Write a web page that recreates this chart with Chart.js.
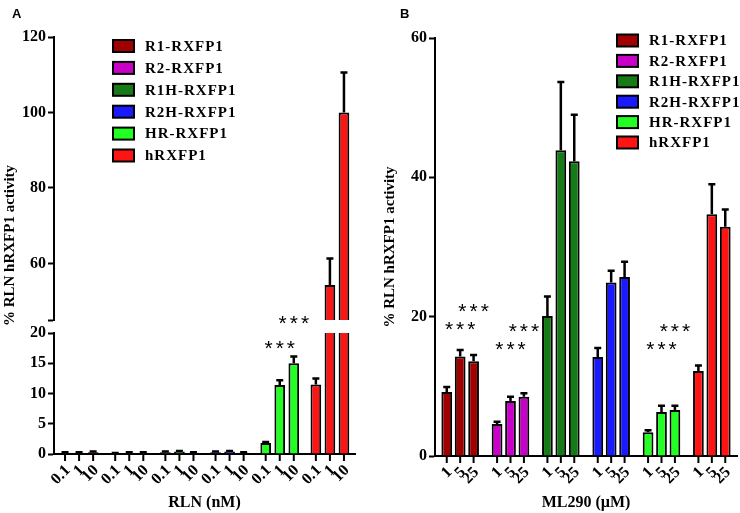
<!DOCTYPE html>
<html>
<head>
<meta charset="utf-8">
<script src="https://cdn.jsdelivr.net/npm/chart.js@4.4.1/dist/chart.umd.min.js"></script>
<style>
  body { margin: 0; background: #fff; }
  #wrap { position: relative; width: 740px; height: 513px; }
  canvas { position: absolute; top: 0; }
</style>
</head>
<body>
<div id="wrap">
  <canvas id="chartA" width="370" height="513" style="left:0"></canvas>
  <canvas id="chartB" width="370" height="513" style="left:370px"></canvas>
</div>
<script>
const receptors = ["R1-RXFP1", "R2-RXFP1", "R1H-RXFP1", "R2H-RXFP1", "HR-RXFP1", "hRXFP1"];
const receptorColours = ["#a00000", "#c800c8", "#167a16", "#1a1aff", "#22ff22", "#ff1414"];

// panel A - relaxin, % of hRXFP1 response
const rlnDoses = ["0.1", "1", "10"];
const rln01 = [0.2, 0.1, 0.3, 0.3, 1.8, 11.5];
const rln1 = [0.2, 0.2, 0.4, 0.4, 11.4, 54.3];
const rln10 = [0.3, 0.2, 0.2, 0.2, 15.0, 100.0];
const rln01Err = [0.1, 0.05, 0.1, 0.1, 0.2, 1.0];
const rln1Err = [0.1, 0.1, 0.1, 0.1, 0.8, 7.0];
const rln10Err = [0.1, 0.1, 0.1, 0.1, 1.1, 10.6];
// [receptor, dose, level] for the *** marks
const rlnSig = [[4, 1, 18.3], [4, 2, 22.5]];

// panel B - ML290
const mlDoses = ["1", "5", "25"];
const ml1 = [9.2, 4.6, 20.1, 14.2, 3.4, 12.2];
const ml5 = [14.3, 7.9, 43.9, 24.9, 6.3, 34.7];
const ml25 = [13.6, 8.5, 42.3, 25.7, 6.6, 32.9];
const ml1Err = [0.7, 0.3, 2.8, 1.3, 0.3, 0.8];
const ml5Err = [0.9, 0.6, 9.8, 1.7, 0.9, 4.3];
const ml25Err = [0.9, 0.5, 6.7, 2.2, 0.6, 2.5];
const mlSig = [[0, 1, 18.9], [0, 2, 21.5], [1, 1, 16.1], [1, 2, 18.7], [4, 1, 16.1], [4, 2, 18.7]];

const yTitle = "% RLN hRXFP1 activity";
const serif = "'Liberation Serif', 'Times New Roman', serif";

function barSet(label, values, errors, axis) {
  return { label: label, data: values, errors: errors, yAxisID: axis, stack: label,
           backgroundColor: receptorColours, borderColor: "#000", borderWidth: 2 };
}

function yAxis(min, max, step, w, extra) {
  return Object.assign({
    type: "linear", position: "left", min: min, max: max, stacked: false,
    ticks: { stepSize: step, autoSkip: false, color: "#000", padding: 2,
             font: { family: serif, size: 16, weight: "bold" },
             callback: v => (v % step === 0 ? v : "") },
    grid: { drawOnChartArea: false, tickLength: 6, tickWidth: 2, tickColor: "#000" },
    border: { color: "#000", width: 2 },
    afterFit: s => { s.width = w; }
  }, extra || {});
}

function xAxis(title, h) {
  return {
    type: "category", offset: true,
    ticks: { display: false }, grid: { display: false },
    border: { color: "#000", width: 2 },
    title: { display: true, text: title, color: "#000", padding: { top: 0, bottom: 1 },
             font: { family: serif, size: 16, weight: "bold" } },
    afterFit: s => { s.height = h; }
  };
}

// clipping per y axis (broken axis), error bars, dose ticks, stars, legend, titles
const panelExtras = {
  id: "panelExtras",
  beforeDatasetDraw(chart, args) {
    const area = chart.chartArea, s = chart.scales[args.meta.yAxisID];
    chart.ctx.save();
    chart.ctx.beginPath();
    chart.ctx.rect(area.left - 5, s.top, area.width + 10, s.bottom - s.top);
    chart.ctx.clip();
  },
  afterDatasetDraw(chart) { chart.ctx.restore(); },
  afterDraw(chart, args, o) {
    const ctx = chart.ctx, area = chart.chartArea;

    chart.data.datasets.forEach((ds, di) => {
      const s = chart.scales[ds.yAxisID];
      ctx.save();
      ctx.beginPath();
      ctx.rect(area.left, s.top - 2, area.width, s.bottom - s.top + 2);
      ctx.clip();
      ctx.strokeStyle = "#000";
      ctx.lineWidth = 2.5;
      chart.getDatasetMeta(di).data.forEach((bar, i) => {
        const y0 = s.getPixelForValue(ds.data[i]);
        const y1 = s.getPixelForValue(ds.data[i] + ds.errors[i]);
        ctx.beginPath();
        ctx.moveTo(bar.x, y0); ctx.lineTo(bar.x, y1);
        ctx.moveTo(bar.x - 3.5, y1); ctx.lineTo(bar.x + 3.5, y1);
        ctx.stroke();
      });
      ctx.restore();
    });

    const base = chart.scales.x.top;
    ctx.save();
    ctx.strokeStyle = "#000"; ctx.fillStyle = "#000"; ctx.lineWidth = 2;
    ctx.font = "bold 16px " + serif;
    ctx.textAlign = "right"; ctx.textBaseline = "middle";
    chart.data.datasets.forEach((ds, di) => {
      if (ds.yAxisID !== o.axis) return;
      chart.getDatasetMeta(di).data.forEach(bar => {
        ctx.beginPath(); ctx.moveTo(bar.x, base); ctx.lineTo(bar.x, base + 7); ctx.stroke();
        ctx.save();
        ctx.translate(bar.x + 3, base + 14);
        ctx.rotate(-Math.PI / 4);
        ctx.fillText(ds.label, 0, 0);
        ctx.restore();
      });
    });

    ctx.font = "21px 'Liberation Sans', Arial, sans-serif";
    ctx.textAlign = "center"; ctx.textBaseline = "alphabetic";
    ctx.letterSpacing = "3px";
    o.stars.forEach(([g, d, level]) => {
      const bar = chart.getDatasetMeta(d).data[g];
      const y = chart.scales[o.axis].getPixelForValue(level);
      ctx.fillText("***", bar.x + 1.5, y + 12);
    });

    ctx.font = "bold 15px " + serif;
    ctx.textAlign = "left"; ctx.textBaseline = "middle";
    ctx.letterSpacing = "1px";
    receptors.forEach((name, i) => {
      const y = o.legend.y + i * o.legend.dy;
      ctx.fillStyle = receptorColours[i];
      ctx.fillRect(o.legend.x, y - 6, 21, 12);
      ctx.strokeRect(o.legend.x, y - 6, 21, 12);
      ctx.fillStyle = "#000";
      ctx.fillText(name, o.legend.x + 32, y + 1);
    });
    ctx.letterSpacing = "0px";

    ctx.save();
    ctx.translate(o.titleX, (area.top + area.bottom) / 2);
    ctx.rotate(-Math.PI / 2);
    ctx.textAlign = "center";
    ctx.fillText(yTitle, 0, 0);
    ctx.restore();

    ctx.font = "bold 13px 'Liberation Sans', Arial, sans-serif";
    ctx.fillText(o.letter, o.letterX, 14);
    ctx.restore();
  }
};

const common = { responsive: false, animation: false, events: [], devicePixelRatio: 1 };

new Chart("chartA", {
  type: "bar",
  data: {
    labels: receptors,
    datasets: [
      barSet(rlnDoses[0], rln01, rln01Err, "yLow"),
      barSet(rlnDoses[1], rln1, rln1Err, "yLow"),
      barSet(rlnDoses[2], rln10, rln10Err, "yLow"),
      barSet(rlnDoses[0], rln01, rln01Err, "yHigh"),
      barSet(rlnDoses[1], rln1, rln1Err, "yHigh"),
      barSet(rlnDoses[2], rln10, rln10Err, "yHigh")
    ]
  },
  options: Object.assign({}, common, {
    datasets: { bar: { barPercentage: 0.76, categoryPercentage: 0.84 } },
    layout: { padding: { top: 37, right: 15, bottom: 0, left: 0 } },
    scales: {
      x: xAxis("RLN (nM)", 59),
      yLow: yAxis(0, 20, 5, 54, { stack: "a", stackWeight: 121 }),
      yGap: { type: "linear", display: false, position: "left", stack: "a", stackWeight: 13 },
      yHigh: yAxis(45, 120, 20, 54, { stack: "a", stackWeight: 283 })
    },
    plugins: {
      legend: { display: false }, tooltip: { enabled: false },
      panelExtras: { axis: "yLow", stars: rlnSig, legend: { x: 113, y: 46, dy: 21.9 },
                     titleX: 10, letter: "A", letterX: 12 }
    }
  }),
  plugins: [panelExtras]
});

new Chart("chartB", {
  type: "bar",
  data: {
    labels: receptors,
    datasets: [
      barSet(mlDoses[0], ml1, ml1Err, "y"),
      barSet(mlDoses[1], ml5, ml5Err, "y"),
      barSet(mlDoses[2], ml25, ml25Err, "y")
    ]
  },
  options: Object.assign({}, common, {
    datasets: { bar: { barPercentage: 0.8, categoryPercentage: 0.8 } },
    layout: { padding: { top: 38, right: 3, bottom: 0, left: 0 } },
    scales: {
      x: xAxis("ML290 (\u00b5M)", 57),
      y: yAxis(0, 60, 20, 65)
    },
    plugins: {
      legend: { display: false }, tooltip: { enabled: false },
      panelExtras: { axis: "y", stars: mlSig, legend: { x: 247, y: 40.5, dy: 20.4 },
                     titleX: 20, letter: "B", letterX: 30 }
    }
  }),
  plugins: [panelExtras]
});
</script>
</body>
</html>
